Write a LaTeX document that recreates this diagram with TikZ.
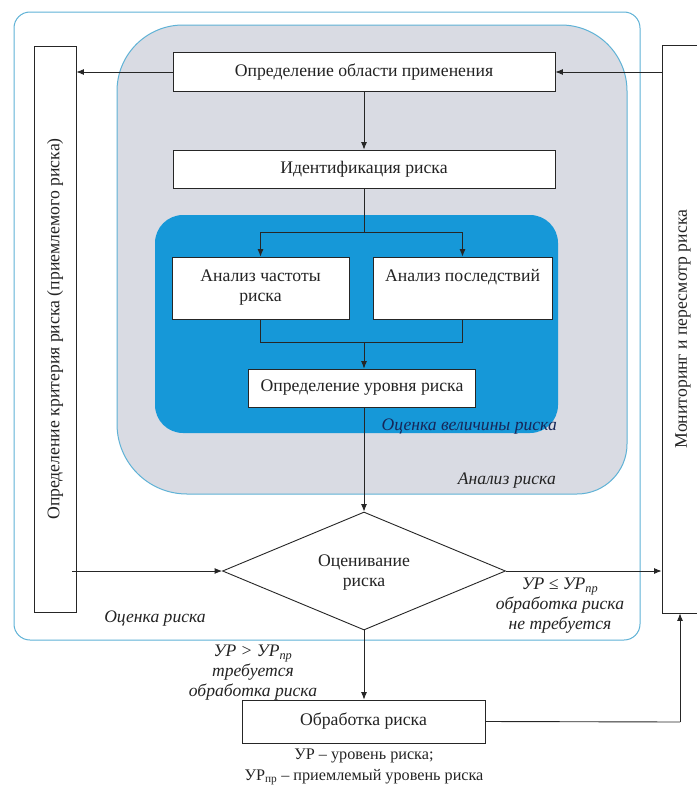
\documentclass[tikz,border=0pt]{standalone}
\usepackage{fontspec}
\setmainfont{Liberation Serif}
\usetikzlibrary{shapes.geometric,arrows.meta,calc}
\definecolor{outerc}{RGB}{95,178,214}
\definecolor{grayf}{RGB}{217,219,227}
\definecolor{bluef}{RGB}{22,152,216}
\definecolor{navy}{RGB}{22,38,88}
\definecolor{txt}{RGB}{35,35,35}
\begin{document}
\begin{tikzpicture}[x=1pt,y=-1pt,
  font=\fontsize{17.7}{20}\selectfont,
  every node/.style={text=txt},
  box/.style={draw=black!85, fill=white, line width=0.8pt, inner sep=0pt, align=center},
  vbox/.style={draw=black!85, fill=white, line width=0.8pt, inner sep=0pt},
  conn/.style={draw=black!85, line width=0.9pt},
  arr/.style={conn, -{Latex[length=7.5pt,width=6pt]}},
  lab/.style={font=\fontsize{17.6}{20}\selectfont\itshape, align=center, inner sep=0pt}]
\useasboundingbox (0,0) rectangle (696,787);
% regions
\draw[outerc, line width=1pt, fill=white, rounded corners=16pt] (14,12) rectangle (640,640);
\draw[outerc, line width=1pt, fill=grayf] (117,300) [rounded corners=66pt] -- (117,25) -- (627,25) [rounded corners=50pt] -- (627,494) [rounded corners=70pt] -- (117,494) -- cycle;
\fill[bluef, rounded corners=28pt] (155,215) rectangle (558,433);
% side boxes
\node[vbox, minimum width=42pt, minimum height=566pt] (L) at (55,329) {};
\node[rotate=90, inner sep=0pt] (Lt) at (55,329) {Определение критерия риска (приемлемого риска)};
\node[vbox, minimum width=44pt, minimum height=568pt] (M) at (684,329) {};
\node[rotate=90, inner sep=0pt] (Mt) at (683,329) {Мониторинг и пересмотр риска};
% main boxes
\node[box, minimum width=382pt, minimum height=39pt] (S) at (364,72) {Определение области применения};
\node[box, minimum width=382pt, minimum height=38pt] (I) at (364,169) {Идентификация риска};
\node[box, minimum width=177pt, minimum height=62pt] (F) at (260.5,288) {Анализ частоты\\риска};
\node[box, minimum width=179pt, minimum height=62pt] (C) at (462.5,288) {Анализ последствий\\\strut};
\node[box, minimum width=227pt, minimum height=38pt] (U) at (362,388) {Определение уровня риска};
\node[draw=black!85, fill=white, line width=0.9pt, diamond, minimum width=283pt, minimum height=118pt, inner sep=0pt] (D) at (364,571) {};
\node[align=center, inner sep=0pt] (Dt) at (364,573) {Оценивание\\риска};
\node[box, minimum width=243pt, minimum height=43pt] (T) at (363.5,721.5) {Обработка риска};
% connectors
\draw[arr] (S.west) -- (S.west -| L.east);
\draw[arr] (M.west |- S.east) -- (S.east);
\draw[arr] (S.south) -- (I.south |- I.north);
\coordinate (sp) at (364,232);
\coordinate (jn) at (364,342);
\draw[conn] (I.south) -- (sp);
\draw[arr] (sp) -| (F.north);
\draw[arr] (sp) -| (C.north);
\draw[conn] (F.south) |- (jn);
\draw[conn] (C.south) |- (jn);
\draw[arr] (jn) -- (jn |- U.north);
\draw[arr] (U.south -| D.north) -- (D.north);
\draw[arr] ([xshift=-4pt]L.east |- D.west) -- (D.west);
\draw[arr] (D.east) -- (D.east -| M.west);
\draw[arr] (D.south) -- (D.south |- T.north);
\coordinate (fb) at (680,722);
\draw[conn] (T.east) -- (fb);
\draw[arr] (fb) -- (fb |- M.south);
% labels
\node[lab, text=navy, anchor=east] (lv) at (557,427) {Оценка величины риска};
\node[lab, anchor=east] (la) at (556,481) {Анализ риска};
\node[lab] (lo) at (155,619) {Оценка риска};
\node[lab] (ly) at (560,606) {УР ≤ УР\textsubscript{пр}\\обработка риска\\не требуется};
\node[lab] (ln) at (253,673) {УР > УР\textsubscript{пр}\\требуется\\обработка риска};
\node[font=\fontsize{16.2}{21}\selectfont, align=center, inner sep=0pt] (fn) at (364,767) {УР – уровень риска;\\УР\textsubscript{пр} – приемлемый уровень риска};
\end{tikzpicture}
\end{document}
